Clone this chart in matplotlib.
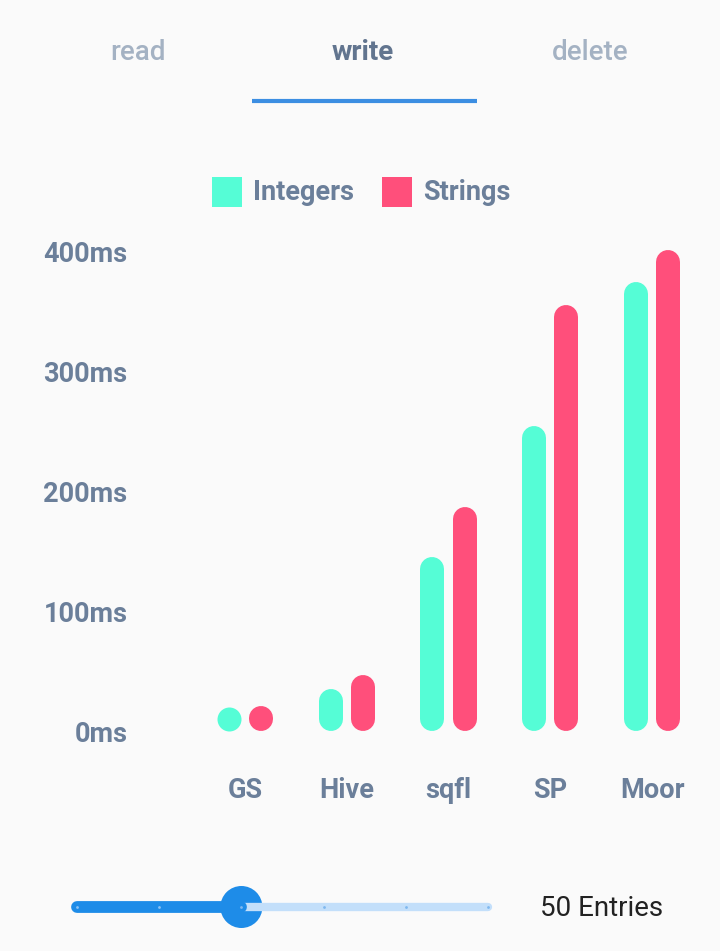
import matplotlib
matplotlib.use('Agg')
import matplotlib.pyplot as plt
from matplotlib.patches import Rectangle, Circle

plt.rcParams['font.family'] = ['Roboto', 'DejaVu Sans']

# data
databases = ['GS', 'Hive', 'sqfl', 'SP', 'Moor']
integers_ms = [20, 35, 145, 254, 374]
strings_ms = [21, 47, 187, 355, 401]
y_ticks = [0, 100, 200, 300, 400]
tabs = ['read', 'write', 'delete']
active_tab = 1
entry_steps = 6
active_step = 2
entries_label = '50 Entries'

BG = '#fafafa'
TEAL = '#55fdd6'
PINK = '#ff4f7b'
LABEL = '#6b7f9a'
W, H = 720, 951

fig = plt.figure(figsize=(W / 100, H / 100), dpi=100, facecolor=BG)


def box(x0, y0, x1, y1):
    # pixel box (top-left origin) -> figure fraction
    return [x0 / W, 1 - y1 / H, (x1 - x0) / W, (y1 - y0) / H]


# bar chart
ax = fig.add_axes(box(194, 251, 703, 731))
ax.set_facecolor('none')
ax.set_xlim(-0.5, len(databases) - 0.5)
ax.set_ylim(0, 400)
for s in ax.spines.values():
    s.set_visible(False)

rod_px = 24
rod_pt = rod_px * 0.72
r = (rod_px / 2) / (480 / 400)  # cap radius in ms
off = 16 / 101.75


def rod(x, v, c):
    if v <= 2 * r:
        ax.plot([x], [r], 'o', ms=rod_pt, color=c, mec='none', clip_on=False)
    else:
        ax.plot([x, x], [r, v - r], color=c, lw=rod_pt,
                solid_capstyle='round', clip_on=False)


for i in range(len(databases)):
    rod(i - off, integers_ms[i], TEAL)
    rod(i + off, strings_ms[i], PINK)

ax.set_yticks(y_ticks, [f'{t}ms' for t in y_ticks])
ax.set_xticks(range(len(databases)), databases)
ax.tick_params(axis='y', length=0, pad=48, labelsize=19.5, labelcolor=LABEL)
ax.tick_params(axis='x', length=0, pad=33, labelsize=19.5, labelcolor=LABEL)
for t in ax.get_xticklabels() + ax.get_yticklabels():
    t.set_fontweight('bold')

# overlay for tabs, legend and slider
ov = fig.add_axes([0, 0, 1, 1])
ov.set_xlim(0, W)
ov.set_ylim(H, 0)
ov.axis('off')

tab_x = [138, 363, 590]
for i, name in enumerate(tabs):
    ov.text(tab_x[i], 52, name, ha='center', va='center', fontsize=20,
            fontweight='bold' if i == active_tab else 'medium',
            color='#62758f' if i == active_tab else '#a4b2c3')
ov.plot([252, 477], [101, 101], color='#3c8ee2', lw=3, solid_capstyle='butt')

# legend
ov.add_patch(Rectangle((212, 177), 30, 30, color=TEAL, lw=0))
ov.text(253, 192, 'Integers', ha='left', va='center', fontsize=19.5,
        fontweight='bold', color=LABEL)
ov.add_patch(Rectangle((382, 177), 30, 30, color=PINK, lw=0))
ov.text(423, 192, 'Strings', ha='left', va='center', fontsize=19.5,
        fontweight='bold', color=LABEL)

# slider
x0, x1, ys = 77, 488, 907
step = (x1 - x0) / (entry_steps - 1)
thumb = x0 + active_step * step
ov.plot([thumb, x1], [ys, ys], color='#c3dffa', lw=6, solid_capstyle='round')
ov.plot([x0, thumb], [ys, ys], color='#1e8ce8', lw=8.5, solid_capstyle='round')
for k in range(entry_steps):
    ov.plot(x0 + k * step, ys, 'o', ms=2, mec='none',
            color='#8cc3f5' if k < active_step else '#7fb8ef')
ov.add_patch(Circle((thumb, ys), 21, color='#1e8ce8', lw=0))
ov.text(540, ys + 1, entries_label, ha='left', va='center', fontsize=20,
        color='#222222')

fig.savefig('out.png', dpi=100, facecolor=BG)
